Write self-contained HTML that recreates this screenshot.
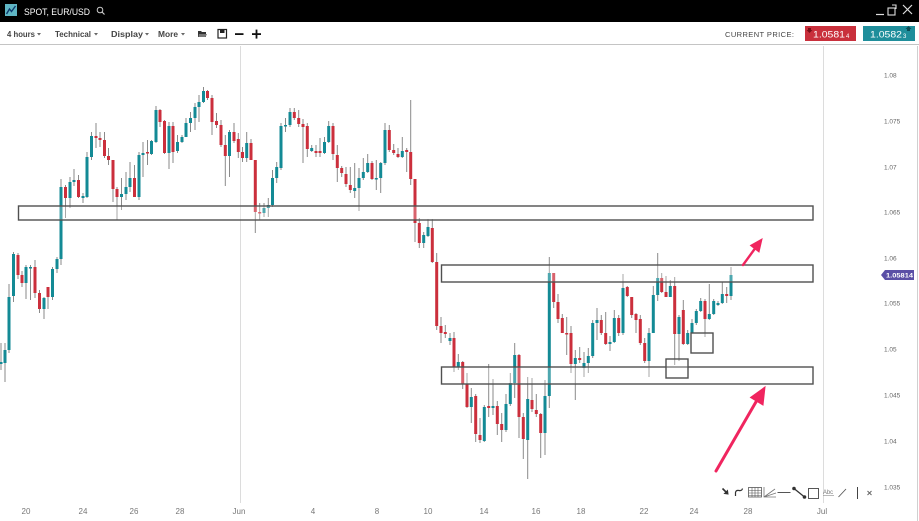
<!DOCTYPE html>
<html><head><meta charset="utf-8"><style>
html,body{margin:0;padding:0;background:#fff;}
svg{display:block;font-family:"Liberation Sans",sans-serif;}
.t{fill:#138a95}.r{fill:#cb2f3c}
</style></head><body>
<svg width="919" height="521" viewBox="0 0 919 521" xmlns="http://www.w3.org/2000/svg">
<rect width="919" height="521" fill="#fff"/>
<!-- top bar -->
<rect width="919" height="22" fill="#000"/>
<rect x="5" y="4" width="12" height="12" fill="#5fb6c4"/>
<path d="M6.5 14 L9.5 9 L11.5 11.5 L15.5 6" stroke="#0d3a6e" stroke-width="1.4" fill="none"/>
<text x="24" y="15" font-size="9" fill="#fff" textLength="66" lengthAdjust="spacingAndGlyphs">SPOT, EUR/USD</text>
<circle cx="100" cy="10" r="2.8" stroke="#ccc" stroke-width="1" fill="none"/>
<line x1="102" y1="12" x2="104.5" y2="14.5" stroke="#ccc" stroke-width="1.2"/>
<line x1="876" y1="14.5" x2="884" y2="14.5" stroke="#ddd" stroke-width="1.2"/>
<rect x="888" y="8" width="7" height="7" stroke="#ddd" fill="none" stroke-width="1.1"/>
<path d="M892 5 h4 v4" stroke="#ddd" fill="none" stroke-width="1.1"/>
<path d="M903 5 L912 14 M912 5 L903 14" stroke="#ddd" stroke-width="1.2"/>
<!-- toolbar -->
<line x1="0" y1="44.5" x2="919" y2="44.5" stroke="#c4c4c4" stroke-width="1"/>
<g font-size="8" font-weight="bold" fill="#444">
<text x="7" y="37" textLength="28" lengthAdjust="spacingAndGlyphs">4 hours</text>
<text x="55" y="37" textLength="36" lengthAdjust="spacingAndGlyphs">Technical</text>
<text x="111" y="37" textLength="32" lengthAdjust="spacingAndGlyphs">Display</text>
<text x="158" y="37" textLength="20" lengthAdjust="spacingAndGlyphs">More</text>
</g>
<g fill="#666">
<path d="M37 33h4l-2 2.5z"/><path d="M94 33h4l-2 2.5z"/><path d="M145 33h4l-2 2.5z"/><path d="M181 33h4l-2 2.5z"/>
</g>
<path d="M198 31h3l1 1h4v5h-8z" fill="#333"/>
<path d="M199 34h8l-1.5 3h-7z" fill="#777"/>
<rect x="218" y="29.5" width="8.5" height="8.5" fill="none" stroke="#222" stroke-width="1.2"/>
<rect x="220" y="30" width="4.5" height="3" fill="#222"/>
<rect x="235" y="33.2" width="8.5" height="1.8" fill="#111"/>
<rect x="252" y="33.2" width="9" height="1.8" fill="#111"/>
<rect x="255.6" y="29.6" width="1.8" height="9" fill="#111"/>
<text x="725" y="37" font-size="7.5" fill="#444" textLength="69" lengthAdjust="spacing">CURRENT PRICE:</text>
<rect x="805" y="26" width="51" height="15" fill="#c9303c"/>
<path d="M808 28h3v2h1.5l-3 3l-3-3h1.5z" fill="#7a1018"/>
<text x="813" y="37.5" font-size="9" fill="#fff" textLength="32" lengthAdjust="spacingAndGlyphs">1.0581</text>
<text x="846" y="38" font-size="6" fill="#fff">4</text>
<rect x="863" y="26" width="52" height="15" fill="#1f8e9b"/>
<text x="870" y="37.5" font-size="9" fill="#fff" textLength="32" lengthAdjust="spacingAndGlyphs">1.0582</text>
<text x="903" y="38" font-size="6" fill="#fff">3</text>
<path d="M910 31h-3v-2h-1.5l3-3l3 3h-1.5z" fill="#0b4d55"/>
<!-- grid / separators -->
<line x1="240.5" y1="46" x2="240.5" y2="503" stroke="#dcdcdc" stroke-width="1"/>
<line x1="823.5" y1="46" x2="823.5" y2="503" stroke="#dcdcdc" stroke-width="1"/>
<line x1="917.5" y1="46" x2="917.5" y2="521" stroke="#d0d0d0" stroke-width="1"/>
<!-- price axis -->
<g font-size="6.5" fill="#666">
<text x="884" y="77.5">1.08</text>
<text x="884" y="123.5">1.075</text>
<text x="884" y="169.5">1.07</text>
<text x="884" y="214.5">1.065</text>
<text x="884" y="260.5">1.06</text>
<text x="884" y="305.5">1.055</text>
<text x="884" y="351.5">1.05</text>
<text x="884" y="397.5">1.045</text>
<text x="884" y="443.5">1.04</text>
<text x="884" y="489.5">1.035</text>
</g>
<path d="M881 275 L885 270 H914 V280 H885 Z" fill="#5a4fa6"/>
<text x="886" y="277.5" font-size="6.3" font-weight="bold" fill="#fff" textLength="27" lengthAdjust="spacingAndGlyphs">1.05814</text>
<!-- date axis -->
<g font-size="8" fill="#777" text-anchor="middle">
<text x="26" y="514">20</text><text x="83" y="514">24</text><text x="134" y="514">26</text><text x="180" y="514">28</text>
<text x="239" y="514">Jun</text><text x="313" y="514">4</text><text x="377" y="514">8</text><text x="428" y="514">10</text>
<text x="484" y="514">14</text><text x="536" y="514">16</text><text x="581" y="514">18</text><text x="644" y="514">22</text>
<text x="694" y="514">24</text><text x="748" y="514">28</text><text x="822" y="514">Jul</text>
</g>
<!-- wicks -->
<path stroke="#8a8a8a" stroke-width="1" fill="none" d="M1 343V370M5 343V382M9 284V353M13.5 252V302M18 253V279M22 271V287M26 265V299M30.5 265V300M35 260V298M39.5 290V313M44 297V319M48 287V309M52.5 267V300M57 257V273M61 179V265M65.5 185V218M70 177V208M74 169V186M78.5 175V198M83 193V203M87 152V198M91.5 132V160M96 123V148M100 132V147M104.5 132V158M108.5 148V165M113 160V202M117 187V220M121.5 178V210M126 172V200M130 162V192M134.5 165V197M139 152V200M143 142V177M147.5 140V165M151.5 140V155M156 106V143M160 109V127M164.5 120V154M169 122V169M173 122V163M177.5 135V153M182 135V143M186 118V137M190.5 112V132M195 103V130M199 95V122M203.5 87V103M207.5 90V100M212 95V135M216.5 113V128M221 120V147M225.3 135V186M229.5 130V177M234 123V143M238.3 133V158M242.5 147V162M246.7 132V162M251 139V160M255.3 160V233M259.7 203V220M264 203V217M268.3 198V217M272.5 170V207M276.7 162V183M281 123V170M285.5 118V132M290 108V127M294.3 108V120M298.7 110V127M303 119V163M307.3 123V157M311.7 145V152M316 145V157M320 138V157M324.5 137V154M328.7 121V143M333 123V160M337.3 145V182M341.7 166V177M346 167V187M350.3 167V193M354.7 163V198M359 168V211M363.3 158V180M367.7 154V173M372 161V180M376.3 160V190M380.7 162V193M385 123V165M389.3 125V152M393.7 144V155M398 148V158M402.3 137V158M406.7 148V172M410.7 100V185M415 179V242M419.3 218V248M423.7 232V248M428 219V237M432.3 219V263M436.7 253V330M441 317V343M445.3 325V338M450 333V345M454 332V372M458.3 354V370M462.7 361V389M467 373V408M471.3 388V423M475.7 394V442M480 418V443M484.3 405V442M488.7 364V417M493 379V415M497.3 401V435M501.7 413V442M506 394V432M510.3 373V406M514.7 343V398M519 354V438M523.3 413V459M527.7 377V479M532 378V412M536.3 394V417M540.7 413V458M545 380V455M549.3 257V408M553.7 273V308M558 294V323M562.3 314V333M566.7 317V355M571 326V373M575.3 350V400M579.7 347V363M584 352V377M588.3 348V373M592.7 320V358M597 308V340M601.3 315V335M605.7 312V345M610 336V351M614.3 310V343M618.7 315V336M623 274V335M627.3 286V297M631.7 297V318M636 313V333M640.3 315V345M644.7 338V363M649 328V377M653.3 286V333M657.7 253V301M661.7 273V293M666 276V297M670.3 280V297M674.7 277V365M679 315V361M683.3 300V345M687.7 330V345M692 319V333M696.3 309V325M700.7 298V312M705 299V337M709.3 284V320M713.7 299V315M718 301V306M722.3 282V304M726.7 287V303M731 267V300"/>
<!-- bodies -->
<g>
<rect class="t" x="-0.5" y="362" width="3" height="2"/><rect class="t" x="3.5" y="350" width="3" height="13"/><rect class="t" x="7.5" y="297" width="3" height="53"/><rect class="t" x="12" y="254" width="3" height="42"/><rect class="r" x="16.5" y="255" width="3" height="20"/><rect class="r" x="20.5" y="275" width="3" height="8"/><rect class="t" x="24.5" y="267" width="3" height="16"/><rect class="t" x="29" y="267" width="3" height="1.5"/><rect class="r" x="33.5" y="267" width="3" height="26"/><rect class="r" x="38" y="293" width="3" height="16"/>
<rect class="t" x="42.5" y="298" width="3" height="11"/><rect class="r" x="46.5" y="287" width="3" height="10"/><rect class="t" x="51" y="269" width="3" height="28"/><rect class="t" x="55.5" y="259" width="3" height="10"/><rect class="t" x="59.5" y="187" width="3" height="72"/><rect class="r" x="64" y="187" width="3" height="11"/><rect class="t" x="68.5" y="182" width="3" height="16"/><rect class="t" x="72.5" y="180" width="3" height="2"/><rect class="r" x="77" y="180" width="3" height="17"/><rect class="t" x="81.5" y="196" width="3" height="2"/>
<rect class="t" x="85.5" y="157" width="3" height="40"/><rect class="t" x="90" y="136" width="3" height="21"/><rect class="r" x="94.5" y="136" width="3" height="2"/><rect class="r" x="98.5" y="138" width="3" height="2"/><rect class="r" x="103" y="140" width="3" height="16"/><rect class="r" x="107" y="156" width="3" height="4"/><rect class="r" x="111.5" y="160" width="3" height="29"/><rect class="r" x="115.5" y="189" width="3" height="8"/><rect class="t" x="120" y="194" width="3" height="3"/><rect class="t" x="124.5" y="187" width="3" height="7"/>
<rect class="t" x="128.5" y="178" width="3" height="9"/><rect class="r" x="133" y="178" width="3" height="19"/><rect class="t" x="137.5" y="155" width="3" height="42"/><rect class="t" x="141.5" y="153" width="3" height="2"/><rect class="r" x="146" y="152" width="3" height="1.5"/><rect class="t" x="150" y="141" width="3" height="13"/><rect class="t" x="154.5" y="110" width="3" height="32"/><rect class="r" x="158.5" y="110" width="3" height="12"/><rect class="r" x="163" y="121" width="3" height="32"/><rect class="t" x="167.5" y="126" width="3" height="27"/>
<rect class="r" x="171.5" y="126" width="3" height="26"/><rect class="t" x="176" y="142" width="3" height="9"/><rect class="t" x="180.5" y="137" width="3" height="5"/><rect class="t" x="184.5" y="123" width="3" height="14"/><rect class="t" x="189" y="118" width="3" height="5"/><rect class="t" x="193.5" y="107" width="3" height="11"/><rect class="t" x="197.5" y="102" width="3" height="5"/><rect class="t" x="202" y="91" width="3" height="11"/><rect class="r" x="206" y="91" width="3" height="7"/><rect class="r" x="210.5" y="98" width="3" height="24"/>
<rect class="r" x="215" y="121" width="3" height="4"/><rect class="r" x="219.5" y="125" width="3" height="20"/><rect class="r" x="223.8" y="145" width="3" height="11"/><rect class="t" x="228" y="132" width="3" height="24"/><rect class="r" x="232.5" y="132" width="3" height="9"/><rect class="r" x="236.8" y="139" width="3" height="13"/><rect class="r" x="241" y="152" width="3" height="6"/><rect class="t" x="245.2" y="143" width="3" height="15"/><rect class="r" x="249.5" y="143" width="3" height="17"/><rect class="r" x="253.8" y="160" width="3" height="52"/>
<rect class="r" x="258.2" y="212" width="3" height="1.5"/><rect class="t" x="262.5" y="208" width="3" height="5"/><rect class="t" x="266.8" y="205" width="3" height="3"/><rect class="t" x="271" y="178" width="3" height="27"/><rect class="t" x="275.2" y="167" width="3" height="11"/><rect class="t" x="279.5" y="126" width="3" height="42"/><rect class="t" x="284" y="125" width="3" height="1.5"/><rect class="t" x="288.5" y="112" width="3" height="13"/><rect class="r" x="292.8" y="112" width="3" height="6"/><rect class="r" x="297.2" y="118" width="3" height="6"/>
<rect class="r" x="301.5" y="124" width="3" height="3"/><rect class="r" x="305.8" y="126" width="3" height="23"/><rect class="t" x="310.2" y="148" width="3" height="3"/><rect class="r" x="314.5" y="151" width="3" height="2"/><rect class="r" x="318.5" y="151" width="3" height="2"/><rect class="t" x="323" y="142" width="3" height="11"/><rect class="t" x="327.2" y="126" width="3" height="16"/><rect class="r" x="331.5" y="126" width="3" height="28"/><rect class="r" x="335.8" y="155" width="3" height="13"/><rect class="r" x="340.2" y="168" width="3" height="5"/>
<rect class="r" x="344.5" y="174" width="3" height="10"/><rect class="r" x="348.8" y="185" width="3" height="5"/><rect class="t" x="353.2" y="188" width="3" height="3"/><rect class="t" x="357.5" y="178" width="3" height="10"/><rect class="t" x="361.8" y="172" width="3" height="6"/><rect class="t" x="366.2" y="163" width="3" height="9"/><rect class="r" x="370.5" y="163" width="3" height="16"/><rect class="t" x="374.8" y="178" width="3" height="1.5"/><rect class="t" x="379.2" y="163" width="3" height="15"/><rect class="t" x="383.5" y="130" width="3" height="33"/>
<rect class="r" x="387.8" y="130" width="3" height="20"/><rect class="r" x="392.2" y="150" width="3" height="3"/><rect class="r" x="396.5" y="154" width="3" height="3"/><rect class="t" x="400.8" y="151" width="3" height="6"/><rect class="r" x="405.2" y="150" width="3" height="2"/><rect class="r" x="409.2" y="152" width="3" height="27"/><rect class="r" x="413.5" y="179" width="3" height="44"/><rect class="r" x="417.8" y="223" width="3" height="20"/><rect class="t" x="422.2" y="235" width="3" height="8"/><rect class="t" x="426.5" y="227" width="3" height="9"/>
<rect class="r" x="430.8" y="228" width="3" height="34"/><rect class="r" x="435.2" y="262" width="3" height="64"/><rect class="r" x="439.5" y="326" width="3" height="7"/><rect class="r" x="443.8" y="332" width="3" height="2"/><rect class="t" x="448.5" y="338" width="3" height="3"/><rect class="r" x="452.5" y="338" width="3" height="29"/><rect class="t" x="456.8" y="362" width="3" height="5"/><rect class="r" x="461.2" y="362" width="3" height="22"/><rect class="r" x="465.5" y="384" width="3" height="23"/><rect class="t" x="469.8" y="397" width="3" height="10"/>
<rect class="r" x="474.2" y="396" width="3" height="38"/><rect class="r" x="478.5" y="435" width="3" height="5"/><rect class="t" x="482.8" y="407" width="3" height="34"/><rect class="r" x="487.2" y="406" width="3" height="2"/><rect class="t" x="491.5" y="406" width="3" height="2"/><rect class="r" x="495.8" y="406" width="3" height="18"/><rect class="r" x="500.2" y="424" width="3" height="6"/><rect class="t" x="504.5" y="404" width="3" height="26"/><rect class="t" x="508.8" y="383" width="3" height="21"/><rect class="t" x="513.2" y="355" width="3" height="28"/>
<rect class="r" x="517.5" y="355" width="3" height="62"/><rect class="r" x="521.8" y="417" width="3" height="22"/><rect class="t" x="526.2" y="399" width="3" height="41"/><rect class="r" x="530.5" y="400" width="3" height="9"/><rect class="r" x="534.8" y="410" width="3" height="4"/><rect class="r" x="539.2" y="414" width="3" height="19"/><rect class="t" x="543.5" y="396" width="3" height="37"/><rect class="t" x="547.8" y="273" width="3" height="123"/><rect class="r" x="552.2" y="273" width="3" height="29"/><rect class="r" x="556.5" y="302" width="3" height="17"/>
<rect class="r" x="560.8" y="318" width="3" height="15"/><rect class="r" x="565.2" y="333" width="3" height="1.5"/><rect class="r" x="569.5" y="333" width="3" height="31"/><rect class="t" x="573.8" y="358" width="3" height="6"/><rect class="r" x="578.2" y="358" width="3" height="2"/><rect class="t" x="582.5" y="363" width="3" height="5"/><rect class="t" x="586.8" y="356" width="3" height="7"/><rect class="t" x="591.2" y="323" width="3" height="33"/><rect class="t" x="595.5" y="320" width="3" height="3"/><rect class="r" x="599.8" y="320" width="3" height="13"/>
<rect class="r" x="604.2" y="333" width="3" height="11"/><rect class="t" x="608.5" y="342" width="3" height="2"/><rect class="t" x="612.8" y="318" width="3" height="24"/><rect class="r" x="617.2" y="318" width="3" height="15"/><rect class="t" x="621.5" y="288" width="3" height="45"/><rect class="r" x="625.8" y="287" width="3" height="9"/><rect class="r" x="630.2" y="297" width="3" height="18"/><rect class="r" x="634.5" y="314" width="3" height="6"/><rect class="r" x="638.8" y="319" width="3" height="24"/><rect class="r" x="643.2" y="343" width="3" height="18"/>
<rect class="t" x="647.5" y="333" width="3" height="28"/><rect class="t" x="651.8" y="295" width="3" height="38"/><rect class="t" x="656.2" y="278" width="3" height="17"/><rect class="r" x="660.2" y="278" width="3" height="14"/><rect class="r" x="664.5" y="292" width="3" height="5"/><rect class="t" x="668.8" y="286" width="3" height="11"/><rect class="r" x="673.2" y="286" width="3" height="48"/><rect class="t" x="677.5" y="317" width="3" height="17"/><rect class="r" x="681.8" y="310" width="3" height="34"/><rect class="t" x="686.2" y="333" width="3" height="11"/>
<rect class="t" x="690.5" y="323" width="3" height="10"/><rect class="t" x="694.8" y="311" width="3" height="12"/><rect class="t" x="699.2" y="301" width="3" height="10"/><rect class="r" x="703.5" y="301" width="3" height="18"/><rect class="t" x="707.8" y="314" width="3" height="5"/><rect class="t" x="712.2" y="301" width="3" height="13"/><rect class="t" x="716.5" y="303" width="3" height="2"/><rect class="t" x="720.8" y="294" width="3" height="9"/><rect class="r" x="725.2" y="294" width="3" height="2"/><rect class="t" x="729.5" y="275" width="3" height="21"/>
</g>
<!-- drawn rectangles -->
<g fill="#fff" fill-opacity="0.25" stroke="#505050" stroke-width="1.4">
<rect x="18.5" y="206" width="794.5" height="14"/>
<rect x="441.5" y="265" width="371.5" height="17"/>
<rect x="441.5" y="367" width="371.5" height="17"/>
<rect x="666" y="359" width="22" height="19"/>
<rect x="691" y="333" width="22" height="20"/>
</g>
<!-- arrows -->
<g fill="#f0255f" stroke="#f0255f" stroke-linecap="round">
<line x1="743" y1="265" x2="755" y2="248.5" stroke-width="2.4"/>
<polygon points="762,239 759,252 750.5,245.5" stroke-width="1"/>
<line x1="716" y1="471" x2="756.5" y2="401" stroke-width="3"/>
<polygon points="765,387 763,405 750.5,397.5" stroke-width="1"/>
</g>
<!-- drawing toolbar -->
<g stroke="#333" fill="none" stroke-width="1">
<path d="M722.5 488.5 L727 493" stroke-width="1.6"/>
<path d="M728 494 L724.5 493.5 L727.5 490.5 Z" fill="#333"/>
<path d="M735.5 496 V492.5 Q736 490 739 490.5 Q742 491 742.5 488.5" stroke-width="1.2"/>
<rect x="748.5" y="487.5" width="13" height="9.5" stroke="#555" stroke-width="0.8"/>
<path d="M748.5 490.5H761.5M748.5 493H761.5M748.5 495.5H761.5M752 487.5V497M755 487.5V497M758 487.5V497" stroke="#555" stroke-width="0.6"/>
<path d="M764 487 V497 H776 M764 497 L775 489 M764 497 L776 493" stroke="#777" stroke-width="0.8"/>
<path d="M777.5 492.5 H790.5" stroke="#555" stroke-width="1"/>
<path d="M794 488.5 L804.5 497" stroke="#333" stroke-width="1.3"/>
<circle cx="794" cy="488.5" r="1.3" fill="#333"/><circle cx="804.5" cy="497" r="1.3" fill="#333"/>
<rect x="808.5" y="488.5" width="10" height="10" stroke="#444" stroke-width="0.9"/>
<path d="M838.5 497 L846 489" stroke="#555" stroke-width="0.9"/>
<path d="M857.5 487 V499" stroke="#444" stroke-width="1"/>
<path d="M867.5 491 L871.5 495 M871.5 491 L867.5 495" stroke="#666" stroke-width="1"/>
</g>
<text x="823" y="494" font-size="6" fill="#777" textLength="10" lengthAdjust="spacingAndGlyphs">Abc</text>
<line x1="823" y1="495.5" x2="834" y2="495.5" stroke="#888" stroke-width="0.6"/>
</svg>
</body></html>
